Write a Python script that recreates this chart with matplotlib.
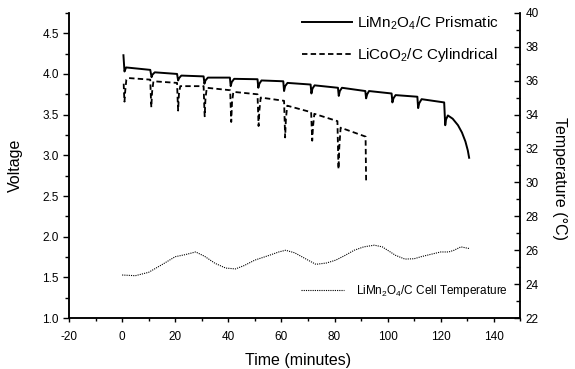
import matplotlib
matplotlib.use("Agg")
import matplotlib.pyplot as plt
from matplotlib.ticker import MultipleLocator

plt.rcParams['font.family'] = ['Liberation Sans', 'DejaVu Sans']

# LiMn2O4/C prismatic cell voltage (time in minutes, voltage in V)
t_prism = [0.5, 0.9, 1.5, 10.6, 11.1, 11.4, 12.3, 20.7, 21.1, 21.5, 22.3, 30.7, 31.0, 31.4,
           32.3, 40.6, 40.9, 41.3, 42.2, 51.0, 51.3, 51.7, 52.5, 60.7, 61.0, 61.4, 62.3,
           71.0, 71.3, 71.7, 72.5, 81.3, 81.6, 82.0, 82.8, 91.6, 91.9, 92.3, 93.0,
           101.5, 101.8, 102.2, 103.0, 111.2, 111.5, 111.9, 112.8, 121.3, 121.7, 122.0,
           122.7, 124.5, 126.5, 128.0, 129.3, 130.2, 130.7]
v_prism = [4.23, 4.03, 4.08, 4.05, 3.96, 3.99, 4.02, 4.00, 3.92, 3.95, 3.98, 3.97, 3.88, 3.92,
           3.955, 3.955, 3.85, 3.90, 3.94, 3.935, 3.83, 3.88, 3.92, 3.91, 3.79, 3.85, 3.89,
           3.87, 3.76, 3.82, 3.86, 3.83, 3.73, 3.79, 3.83, 3.79, 3.70, 3.75, 3.79,
           3.76, 3.65, 3.70, 3.74, 3.72, 3.58, 3.64, 3.69, 3.65, 3.37, 3.44,
           3.49, 3.45, 3.37, 3.28, 3.17, 3.06, 2.97]

# LiCoO2/C cylindrical cell voltage
t_cyl = [0.6, 0.7, 0.9, 1.2, 1.6, 2.3, 10.6, 10.8, 11.0, 11.3, 11.8, 20.7, 20.9, 21.1, 21.4,
         21.9, 30.7, 30.9, 31.1, 31.4, 31.9, 40.7, 40.9, 41.1, 41.4, 41.9, 51.0, 51.2, 51.4,
         51.7, 52.2, 61.0, 61.2, 61.4, 61.7, 62.2, 71.2, 71.4, 71.6, 71.9, 72.4, 81.1, 81.3,
         81.5, 81.8, 82.3, 91.7, 91.8, 91.9]
v_cyl = [3.88, 3.78, 3.66, 3.80, 3.93, 3.95, 3.93, 3.75, 3.59, 3.78, 3.91, 3.89, 3.70, 3.55, 3.75,
         3.85, 3.85, 3.65, 3.48, 3.70, 3.83, 3.80, 3.60, 3.41, 3.65, 3.78, 3.75, 3.55, 3.36,
         3.55, 3.71, 3.67, 3.45, 3.22, 3.45, 3.61, 3.53, 3.35, 3.18, 3.35, 3.51, 3.42, 3.10,
         2.83, 3.10, 3.34, 3.23, 2.95, 2.69]

# LiMn2O4/C cell temperature (deg C)
t_temp = [0, 5, 10, 15, 20, 24, 27.7, 31, 35, 39, 42.7, 46, 50, 55.4, 59, 61.6, 65, 70, 73, 77,
          80.5, 84, 87.4, 91, 95, 98, 100, 103, 106.5, 110, 112.6, 116, 120, 123, 125, 127.6,
          130.8]
temp = [24.54, 24.5, 24.7, 25.15, 25.62, 25.75, 25.9, 25.65, 25.23, 24.95, 24.9, 25.1, 25.42,
        25.7, 25.9, 26.0, 25.85, 25.42, 25.17, 25.25, 25.42, 25.7, 26.0, 26.2, 26.3, 26.2,
        26.0, 25.7, 25.48, 25.5, 25.62, 25.75, 25.9, 25.9, 26.0, 26.2, 26.1]

fig = plt.figure(figsize=(5.75, 3.69), dpi=100)
ax = fig.add_axes([0.12, 0.138, 0.785, 0.827])
ax2 = ax.twinx()

l1, = ax.plot(t_prism, v_prism, color='black', lw=1.4, label='LiMn$_\\mathregular{2}$O$_\\mathregular{4}$/C Prismatic')
l2, = ax.plot(t_cyl, v_cyl, color='black', lw=1.3, ls=(0, (3, 1.8)), label='LiCoO$_\\mathregular{2}$/C Cylindrical')
l3, = ax2.plot(t_temp, temp, color='black', lw=0.8, ls=(0, (1, 1)), label='LiMn$_\\mathregular{2}$O$_\\mathregular{4}$/C Cell Temperature')

ax.set_xlim(-20, 150)
ax.set_ylim(1.0, 4.75)
ax2.set_ylim(22, 40)

ax.xaxis.set_major_locator(MultipleLocator(20))
ax.xaxis.set_minor_locator(MultipleLocator(10))
ax.yaxis.set_major_locator(MultipleLocator(0.5))
ax.yaxis.set_minor_locator(MultipleLocator(0.25))
ax2.yaxis.set_major_locator(MultipleLocator(2))
ax2.yaxis.set_minor_locator(MultipleLocator(1))

for a in (ax, ax2):
    a.spines['top'].set_visible(False)
    for s in a.spines.values():
        s.set_linewidth(1.1)

ax.tick_params(axis='y', which='major', direction='out', length=4.3, width=1, labelsize=8.5, pad=3)
ax.tick_params(axis='y', which='minor', direction='out', length=3, width=1)
ax.tick_params(axis='x', which='major', direction='out', length=3, width=1, labelsize=8.5, pad=6)
ax.tick_params(axis='x', which='minor', direction='out', length=2.5, width=1)
ax2.tick_params(axis='y', which='major', direction='in', length=4, width=1, labelsize=8.5, pad=4)
ax2.tick_params(axis='y', which='minor', direction='in', length=3, width=1)

ax.set_xticklabels([f'{int(v)}' for v in ax.get_xticks()])
ax.set_yticks([1.0, 1.5, 2.0, 2.5, 3.0, 3.5, 4.0, 4.5])
ax.set_yticklabels(['1.0', '1.5', '2.0', '2.5', '3.0', '3.5', '4.0', '4.5'])

ax.set_xlabel('Time (minutes)', fontsize=11.5, va='top')
ax.xaxis.set_label_coords(0.507, -0.115)
ax.set_ylabel('Voltage', fontsize=11.5)
ax.yaxis.set_label_coords(-0.102, 0.5)
ax2.set_ylabel('Temperature (\u00b0C)', fontsize=11.5, rotation=270, va='center')
ax2.yaxis.set_label_coords(1.087, 0.459)

leg1 = ax2.legend(handles=[l1, l2], loc='upper right', bbox_to_anchor=(0.952, 0.995),
                  frameon=False, fontsize=11, handlelength=3.3, handletextpad=0.3,
                  labelspacing=0.9, borderpad=0, borderaxespad=0)
ax2.add_artist(leg1)
ax2.legend(handles=[l3], loc='center right', bbox_to_anchor=(0.972, 0.089), frameon=False,
           fontsize=8.5, handlelength=3.6, handletextpad=1.0, borderpad=0, borderaxespad=0)

fig.savefig('out.png', dpi=100)
